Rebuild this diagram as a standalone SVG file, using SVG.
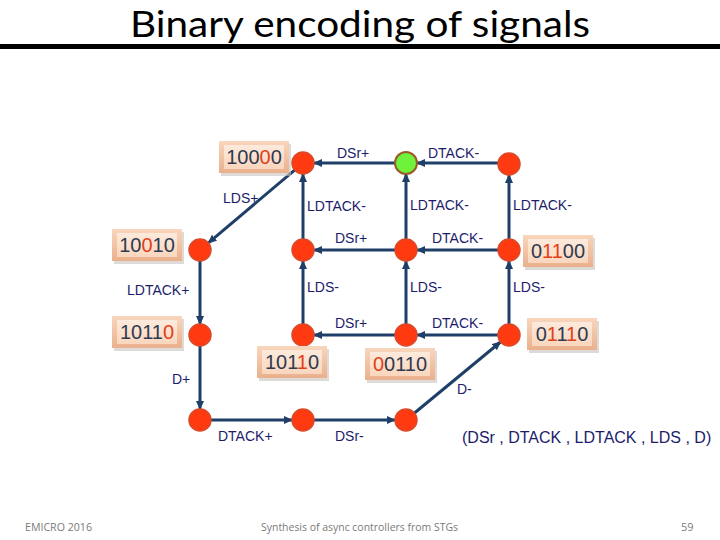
<svg xmlns="http://www.w3.org/2000/svg" width="720" height="540" viewBox="0 0 720 540">
<defs>
<style>
.edge{stroke:#1f3f68;stroke-width:3;fill:none;marker-end:url(#ah)}
.lbl{font-family:"Liberation Sans",Arial,sans-serif;font-size:14px;fill:#1c1c6b}
.st{fill:#ff3a10;stroke:#d84a2a;stroke-width:1.5}
.gr{fill:#6ef23a;stroke:#9a5a2a;stroke-width:2}
.code{font-family:"Liberation Sans",Arial,sans-serif;font-size:20px;fill:#2e3a4f}
.r{fill:#e2401a}
.foot{font-family:"Open Sans","Liberation Sans",sans-serif;font-size:11px;fill:#7a7a7a}
</style>
<marker id="ah" markerWidth="9" markerHeight="8" refX="8" refY="4" orient="auto" markerUnits="userSpaceOnUse">
<path d="M0,0 L9,4 L0,8 z" fill="#1f3f68"/>
</marker>
<linearGradient id="bev" x1="0" y1="0" x2="0" y2="1">
<stop offset="0" stop-color="#f8d6bd"/>
<stop offset="1" stop-color="#eab08c"/>
</linearGradient>
<linearGradient id="face" x1="0" y1="0" x2="0" y2="1">
<stop offset="0" stop-color="#fdeadc"/>
<stop offset="1" stop-color="#f9d6bd"/>
</linearGradient>
<g id="boxshape">
<rect x="2" y="3" width="70" height="32" fill="#c8c2bc" opacity="0.6"/>
<rect x="0" y="0" width="70" height="32" fill="url(#bev)"/>
<rect x="5" y="4" width="60" height="24" fill="url(#face)"/>
</g>
</defs>
<rect width="720" height="540" fill="#ffffff"/>

<text x="360" y="37" text-anchor="middle" font-family="Lato, Open Sans, sans-serif" font-size="36" textLength="460" lengthAdjust="spacingAndGlyphs" fill="#000">Binary encoding of signals</text>
<rect x="0" y="44" width="720" height="5" fill="#000"/>

<g id="connectors">
<line class="edge" x1="395" y1="163" x2="314" y2="163"/>
<line class="edge" x1="498" y1="163" x2="417" y2="163"/>
<line class="edge" x1="294.6" y1="170.1" x2="208.4" y2="242.9"/>
<line class="edge" x1="303" y1="239" x2="303" y2="174"/>
<line class="edge" x1="406" y1="239" x2="406" y2="174"/>
<line class="edge" x1="509" y1="239" x2="509" y2="175"/>
<line class="edge" x1="395" y1="250" x2="314" y2="250"/>
<line class="edge" x1="498" y1="250" x2="417" y2="250"/>
<line class="edge" x1="200" y1="261" x2="200" y2="324"/>
<line class="edge" x1="303" y1="324" x2="303" y2="261"/>
<line class="edge" x1="406" y1="324" x2="406" y2="261"/>
<line class="edge" x1="509" y1="324" x2="509" y2="261"/>
<line class="edge" x1="395" y1="335" x2="314" y2="335"/>
<line class="edge" x1="498" y1="335" x2="417" y2="335"/>
<line class="edge" x1="200" y1="346" x2="200" y2="409"/>
<line class="edge" x1="211" y1="420" x2="292" y2="420"/>
<line class="edge" x1="314" y1="420" x2="395" y2="420"/>
<line class="edge" x1="414.5" y1="413" x2="500.5" y2="342"/>
</g>

<g id="edge-labels">
<text class="lbl" x="337" y="158">DSr+</text>
<text class="lbl" x="428" y="158">DTACK-</text>
<text class="lbl" x="223" y="203">LDS+</text>
<text class="lbl" x="307" y="211">LDTACK-</text>
<text class="lbl" x="410" y="210">LDTACK-</text>
<text class="lbl" x="513" y="210">LDTACK-</text>
<text class="lbl" x="335" y="243">DSr+</text>
<text class="lbl" x="432" y="243">DTACK-</text>
<text class="lbl" x="127" y="295">LDTACK+</text>
<text class="lbl" x="307" y="292">LDS-</text>
<text class="lbl" x="410" y="292">LDS-</text>
<text class="lbl" x="513" y="292">LDS-</text>
<text class="lbl" x="335" y="328">DSr+</text>
<text class="lbl" x="432" y="328">DTACK-</text>
<text class="lbl" x="172" y="384">D+</text>
<text class="lbl" x="218" y="441">DTACK+</text>
<text class="lbl" x="335" y="441">DSr-</text>
<text class="lbl" x="457" y="394">D-</text>
</g>

<g id="n10000"><circle class="st" cx="303" cy="163" r="11"/></g>
<g id="nG"><circle class="gr" cx="406" cy="163" r="11"/></g>
<g id="nB"><circle class="st" cx="509" cy="164" r="11"/></g>
<g id="n10010"><circle class="st" cx="200" cy="250" r="11"/></g>
<g id="nD"><circle class="st" cx="303" cy="250" r="11"/></g>
<g id="nE"><circle class="st" cx="406" cy="250" r="11"/></g>
<g id="n01100"><circle class="st" cx="509" cy="250" r="11"/></g>
<g id="n10110a"><circle class="st" cx="200" cy="335" r="11"/></g>
<g id="n10110b"><circle class="st" cx="303" cy="335" r="11"/></g>
<g id="n00110"><circle class="st" cx="406" cy="335" r="11"/></g>
<g id="n01110"><circle class="st" cx="509" cy="335" r="11"/></g>
<g id="nC4"><circle class="st" cx="200" cy="420" r="11"/></g>
<g id="nD4"><circle class="st" cx="303" cy="420" r="11"/></g>
<g id="nE4"><circle class="st" cx="406" cy="420" r="11"/></g>

<g id="code-labels">
<use href="#boxshape" x="219" y="141"/>
<text class="code" x="254" y="164" text-anchor="middle">100<tspan class="r">0</tspan>0</text>
<use href="#boxshape" x="112" y="229"/>
<text class="code" x="147" y="252" text-anchor="middle">10<tspan class="r">0</tspan>10</text>
<use href="#boxshape" x="523" y="235"/>
<text class="code" x="558" y="258" text-anchor="middle">0<tspan class="r">11</tspan>00</text>
<use href="#boxshape" x="112" y="316"/>
<text class="code" x="147" y="339" text-anchor="middle">1011<tspan class="r">0</tspan></text>
<use href="#boxshape" x="527" y="318"/>
<text class="code" x="562" y="341" text-anchor="middle">0<tspan class="r">1</tspan>1<tspan class="r">1</tspan>0</text>
<use href="#boxshape" x="257" y="346"/>
<text class="code" x="292" y="369" text-anchor="middle">101<tspan class="r">1</tspan>0</text>
<use href="#boxshape" x="365" y="348"/>
<text class="code" x="400" y="371" text-anchor="middle"><tspan class="r">0</tspan>0110</text>
</g>

<text x="462" y="443" font-family="Liberation Sans, Arial, sans-serif" font-size="16" fill="#1c1c6b">(DSr , DTACK , LDTACK , LDS , D)</text>

<text class="foot" x="25" y="531" textLength="67" lengthAdjust="spacingAndGlyphs">EMICRO 2016</text>
<text class="foot" x="261" y="531" textLength="197" lengthAdjust="spacingAndGlyphs">Synthesis of async controllers from STGs</text>
<text class="foot" x="681" y="531">59</text>
</svg>
